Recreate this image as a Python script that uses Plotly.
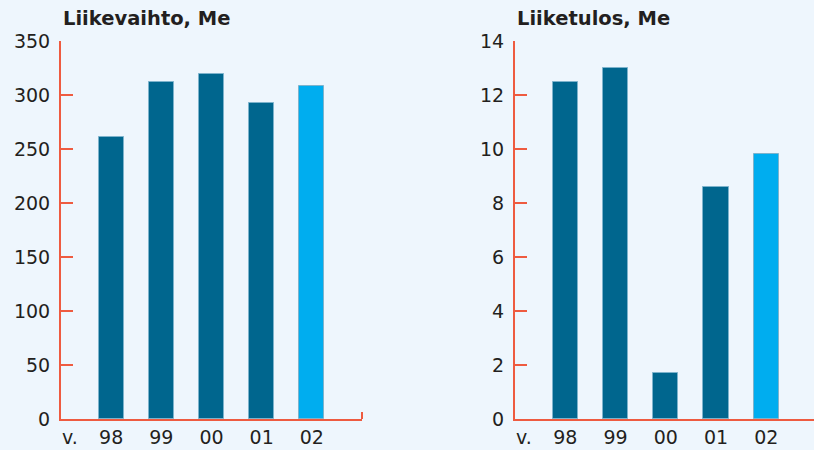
import plotly.graph_objects as go

years = ["98", "99", "00", "01", "02"]
liikevaihto = [261, 312, 319, 293, 308]
liiketulos = [12.5, 13.0, 1.7, 8.6, 9.8]
titles = ["Liikevaihto, Me", "Liiketulos, Me"]
bar_colors = ["#00668E", "#00668E", "#00668E", "#00668E", "#00ADEF"]

BG = "#EEF6FD"
RED = "#EE5B40"
TXT = "#231F20"
FONT = "DejaVu Sans"
W, H = 814, 450

fig = go.Figure()
fig.add_trace(go.Bar(x=years, y=liikevaihto, marker=dict(color=bar_colors, line=dict(color="#7DB3CC", width=1)),
                     width=0.5, xaxis="x", yaxis="y", hoverinfo="skip"))
fig.add_trace(go.Bar(x=years, y=liiketulos, marker=dict(color=bar_colors, line=dict(color="#7DB3CC", width=1)),
                     width=0.5, xaxis="x2", yaxis="y2", hoverinfo="skip"))

ydom = [(H - 419) / H, (H - 41) / H]
common_x = dict(type="category", showline=True, linecolor=RED, linewidth=2, ticks="",
                showgrid=False, zeroline=False, tickfont=dict(family=FONT, size=19, color=TXT),
                ticklabelstandoff=0, fixedrange=True, automargin=False)
common_y = dict(showline=True, linecolor=RED, linewidth=2, ticks="inside", ticklen=12, tickcolor=RED,
                tickwidth=1.5, showgrid=False, zeroline=False, ticklabelstandoff=5,
                tickfont=dict(family=FONT, size=19, color=TXT), fixedrange=True, automargin=False)

fig.update_layout(
    template="none",
    width=W, height=H, margin=dict(l=0, r=0, t=0, b=0, pad=0),
    paper_bgcolor=BG, plot_bgcolor=BG, showlegend=False, bargap=0,
    xaxis=dict(common_x, domain=[61 / W, 362 / W], range=[-1, 5], anchor="y"),
    yaxis=dict(common_y, domain=ydom, range=[0, 350], dtick=50, anchor="x"),
    xaxis2=dict(common_x, domain=[515 / W, 1], range=[-1, 4.95], anchor="y2"),
    yaxis2=dict(common_y, domain=ydom, range=[0, 14], dtick=2, anchor="x2"),
)

# small end tick on left x-axis
fig.add_shape(type="line", xref="x domain", yref="paper", x0=1, x1=1,
              y0=ydom[0], y1=ydom[0] + 7 / H, line=dict(color=RED, width=2))

for i, (t, xr) in enumerate(zip(titles, ["x", "x2"])):
    fig.add_annotation(text=f"<b>{t}</b>", xref=f"{xr} domain", yref="paper", x=0, y=1 - 18 / H,
                       xanchor="left", yanchor="middle", showarrow=False,
                       font=dict(family=FONT, size=19.5, color=TXT))
    fig.add_annotation(text="v.", xref=f"{xr} domain", yref="paper", x=0, y=1 - 437 / H,
                       xanchor="left", yanchor="middle", showarrow=False, xshift=-1,
                       font=dict(family=FONT, size=19, color=TXT))

fig.write_html("out.html", config={"displayModeBar": False},
               post_script="document.body.style.margin='0';document.body.style.background='" + BG + "';")
